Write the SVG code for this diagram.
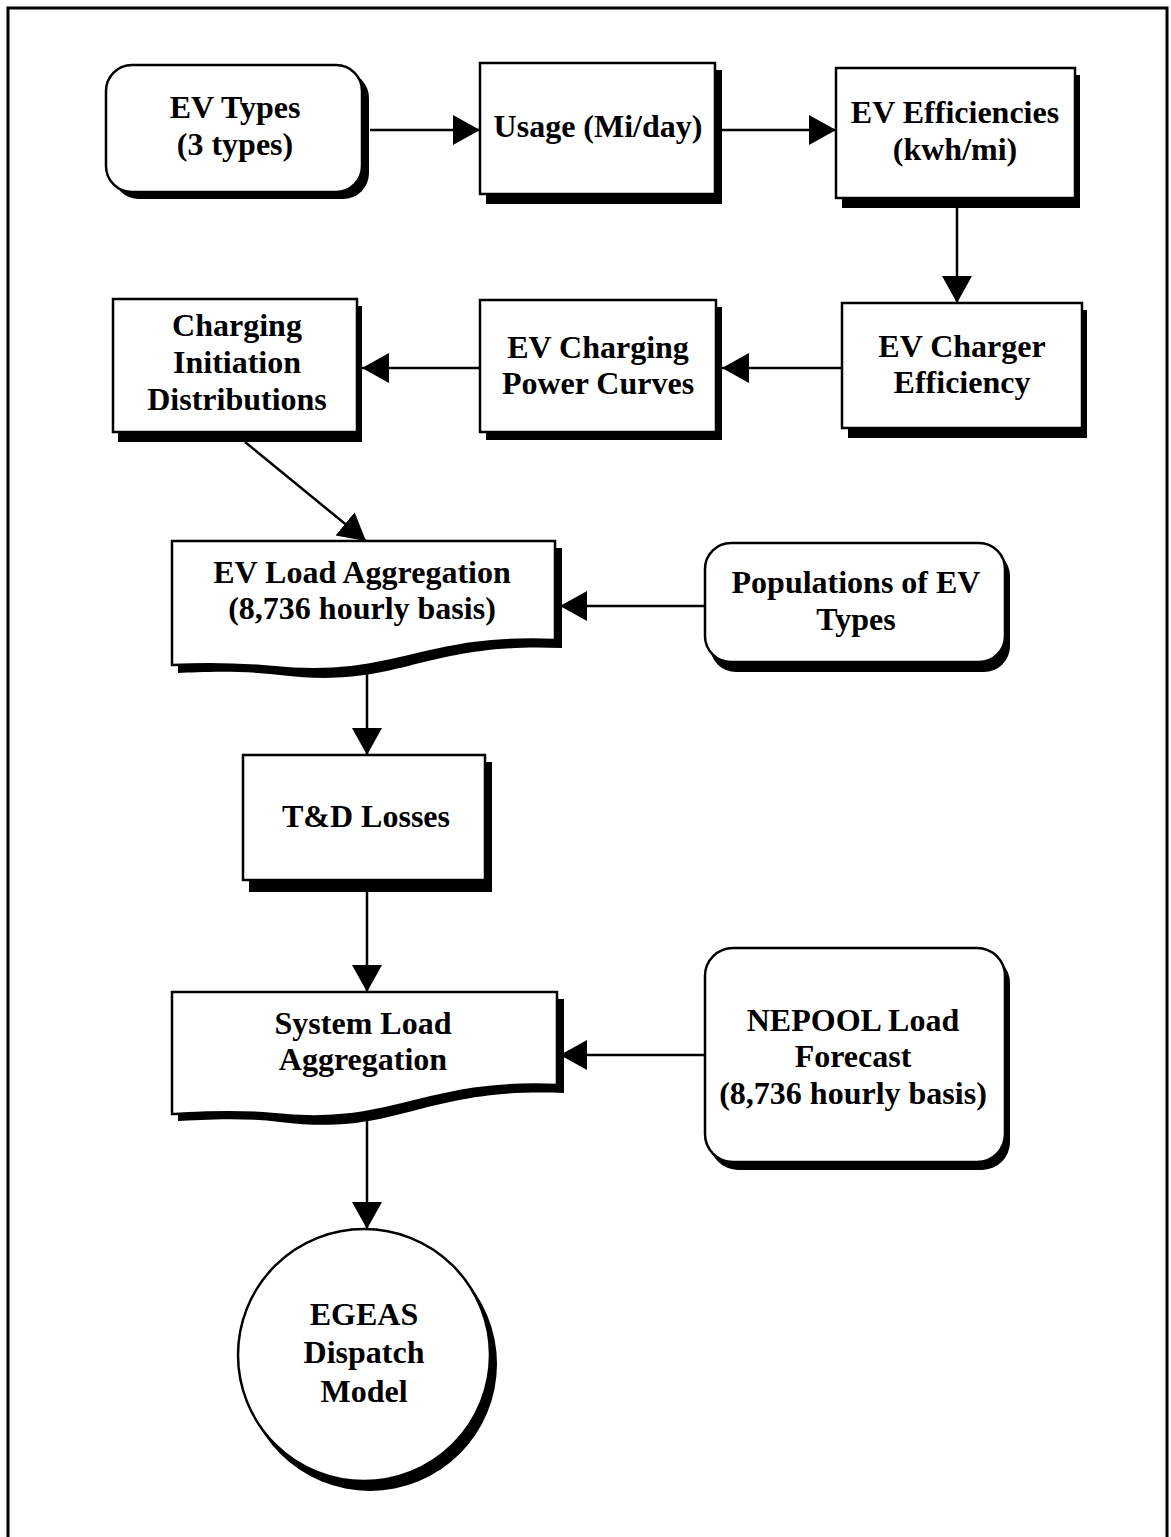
<svg xmlns="http://www.w3.org/2000/svg" width="1171" height="1537" viewBox="0 0 1171 1537">
  <defs>
    <style>
      .box { fill: #ffffff; stroke: #000000; stroke-width: 2.5; }
      .shadow { fill: #000000; stroke: none; }
      .lbl { font-family: "Liberation Serif", "Times New Roman", serif; font-weight: bold; font-size: 32px; fill: #000000; text-anchor: middle; }
      .wire { fill: none; stroke: #000000; stroke-width: 2.5; }
    </style>
    <marker id="arrow" markerUnits="userSpaceOnUse" markerWidth="28" markerHeight="32" refX="27" refY="15" orient="auto">
      <path d="M0,0 L27,15 L0,30 Z" fill="#000000"/>
    </marker>
  </defs>

  <rect x="0" y="0" width="1171" height="1537" fill="#ffffff"/>

  <!-- page frame (open at the bottom) -->
  <path d="M8,1537 V8 H1167 V1537" fill="none" stroke="#000000" stroke-width="3"/>

  <!-- connectors -->
  <g id="connectors">
    <line class="wire" x1="370" y1="130" x2="480" y2="130" marker-end="url(#arrow)"/>
    <line class="wire" x1="722" y1="130" x2="836" y2="130" marker-end="url(#arrow)"/>
    <line class="wire" x1="957" y1="208" x2="957" y2="303" marker-end="url(#arrow)"/>
    <line class="wire" x1="842" y1="368" x2="722" y2="368" marker-end="url(#arrow)"/>
    <line class="wire" x1="480" y1="368" x2="362" y2="368" marker-end="url(#arrow)"/>
    <line class="wire" x1="245" y1="442" x2="366" y2="541" marker-end="url(#arrow)"/>
    <line class="wire" x1="705" y1="606" x2="560" y2="606" marker-end="url(#arrow)"/>
    <line class="wire" x1="367" y1="660" x2="367" y2="755" marker-end="url(#arrow)"/>
    <line class="wire" x1="367" y1="892" x2="367" y2="992" marker-end="url(#arrow)"/>
    <line class="wire" x1="705" y1="1055" x2="560" y2="1055" marker-end="url(#arrow)"/>
    <line class="wire" x1="367" y1="1110" x2="367" y2="1229" marker-end="url(#arrow)"/>
  </g>

  <!-- EV Types -->
  <g id="ev-types">
    <rect class="shadow" x="113" y="72" width="256" height="127" rx="26"/>
    <rect class="box" x="106" y="65" width="256" height="127" rx="26"/>
    <text class="lbl" x="235" y="118">EV Types</text>
    <text class="lbl" x="235" y="155">(3 types)</text>
  </g>

  <!-- Usage -->
  <g id="usage">
    <rect class="shadow" x="486" y="70" width="236" height="134"/>
    <rect class="box" x="480" y="63" width="235" height="131"/>
    <text class="lbl" x="598" y="137">Usage (Mi/day)</text>
  </g>

  <!-- EV Efficiencies -->
  <g id="ev-efficiencies">
    <rect class="shadow" x="842" y="75" width="238" height="133"/>
    <rect class="box" x="836" y="68" width="239" height="130"/>
    <text class="lbl" x="955" y="123">EV Efficiencies</text>
    <text class="lbl" x="955" y="160">(kwh/mi)</text>
  </g>

  <!-- EV Charger Efficiency -->
  <g id="ev-charger-efficiency">
    <rect class="shadow" x="848" y="310" width="239" height="128"/>
    <rect class="box" x="842" y="303" width="240" height="125"/>
    <text class="lbl" x="962" y="357">EV Charger</text>
    <text class="lbl" x="962" y="393">Efficiency</text>
  </g>

  <!-- EV Charging Power Curves -->
  <g id="ev-charging-power-curves">
    <rect class="shadow" x="486" y="307" width="236" height="133"/>
    <rect class="box" x="480" y="300" width="236" height="132"/>
    <text class="lbl" x="598" y="358">EV Charging</text>
    <text class="lbl" x="598" y="394">Power Curves</text>
  </g>

  <!-- Charging Initiation Distributions -->
  <g id="charging-initiation">
    <rect class="shadow" x="118" y="306" width="244" height="136"/>
    <rect class="box" x="113" y="299" width="244" height="133"/>
    <text class="lbl" x="237" y="336">Charging</text>
    <text class="lbl" x="237" y="373">Initiation</text>
    <text class="lbl" x="237" y="410">Distributions</text>
  </g>

  <!-- EV Load Aggregation (document shape) -->
  <g id="ev-load-aggregation">
    <path class="shadow" d="M178,548 H562 V648 C420,642 400,690 280,675 C240,670 200,672 178,673 Z"/>
    <path class="box" d="M172,541 H555 V640 C420,634 395,680 272,667 C230,663 195,664 172,665 Z"/>
    <text class="lbl" x="362" y="583">EV Load Aggregation</text>
    <text class="lbl" x="362" y="619">(8,736 hourly basis)</text>
  </g>

  <!-- Populations of EV Types -->
  <g id="populations">
    <rect class="shadow" x="710" y="550" width="300" height="122" rx="26"/>
    <rect class="box" x="705" y="543" width="300" height="119" rx="26"/>
    <text class="lbl" x="856" y="593">Populations of EV</text>
    <text class="lbl" x="856" y="630">Types</text>
  </g>

  <!-- T&D Losses -->
  <g id="td-losses">
    <rect class="shadow" x="249" y="762" width="243" height="130"/>
    <rect class="box" x="243" y="755" width="242" height="125"/>
    <text class="lbl" x="366" y="827">T&amp;D Losses</text>
  </g>

  <!-- System Load Aggregation (document shape) -->
  <g id="system-load-aggregation">
    <path class="shadow" d="M178,999 H564 V1093 C420,1087 400,1137 280,1122 C240,1117 200,1120 178,1121 Z"/>
    <path class="box" d="M172,992 H557 V1085 C420,1079 395,1128 272,1114 C230,1110 195,1113 172,1114 Z"/>
    <text class="lbl" x="363" y="1034">System Load</text>
    <text class="lbl" x="363" y="1070">Aggregation</text>
  </g>

  <!-- NEPOOL Load Forecast -->
  <g id="nepool-forecast">
    <rect class="shadow" x="710" y="955" width="300" height="215" rx="28"/>
    <rect class="box" x="705" y="948" width="300" height="214" rx="28"/>
    <text class="lbl" x="853" y="1031">NEPOOL Load</text>
    <text class="lbl" x="853" y="1067">Forecast</text>
    <text class="lbl" x="853" y="1104">(8,736 hourly basis)</text>
  </g>

  <!-- EGEAS Dispatch Model -->
  <g id="egeas-model">
    <clipPath id="circle-clip">
      <rect x="0" y="0" width="1171" height="1493"/>
    </clipPath>
    <circle class="shadow" cx="370" cy="1364" r="127" clip-path="url(#circle-clip)"/>
    <circle class="box" cx="364" cy="1355" r="126" stroke-width="4"/>
    <text class="lbl" x="364" y="1325">EGEAS</text>
    <text class="lbl" x="364" y="1363">Dispatch</text>
    <text class="lbl" x="364" y="1402">Model</text>
  </g>
</svg>
